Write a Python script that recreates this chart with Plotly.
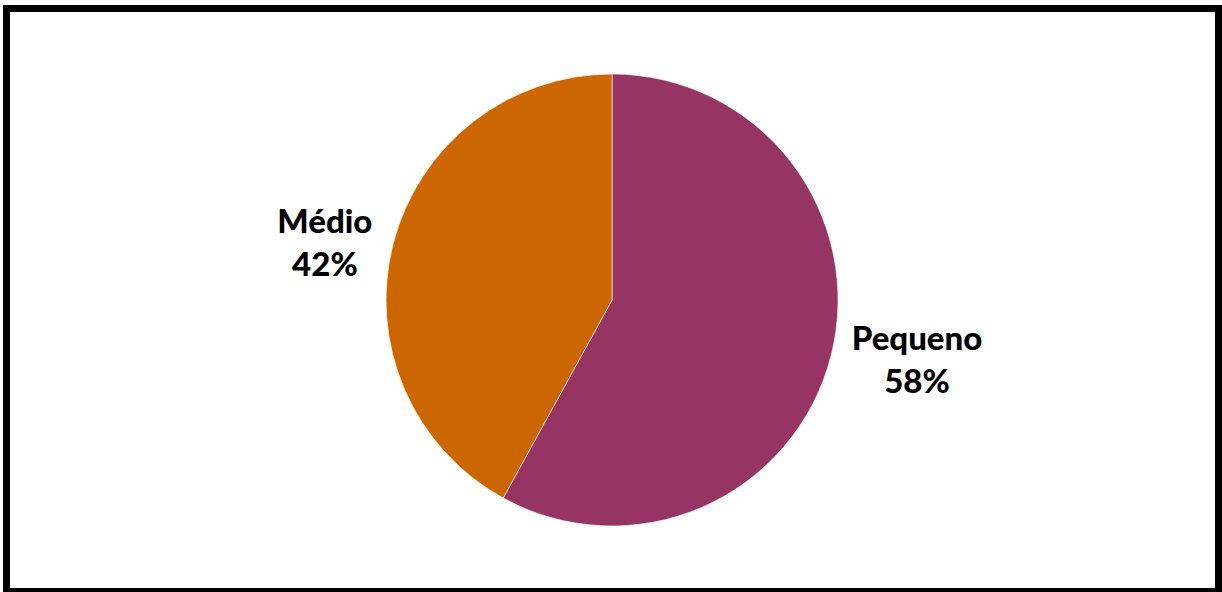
import plotly.graph_objects as go

labels = ["Pequeno", "Médio"]
values = [58, 42]
colors = ["#963464", "#CC6600"]

fig = go.Figure(go.Pie(
    labels=labels,
    values=values,
    sort=False,
    direction="clockwise",
    rotation=0,
    marker=dict(colors=colors, line=dict(color="rgba(255,255,255,0.6)", width=1)),
    textposition="outside",
    texttemplate="%{label}<br>%{percent:.0%}",
    textfont=dict(family="Lato, Open Sans, sans-serif", size=33, color="#000000", weight=900),
    showlegend=False,
    hole=0,
    domain=dict(x=[0.3159, 0.6858], y=[0.1115, 0.875]),
))

fig.update_layout(
    width=1222, height=592,
    margin=dict(l=0, r=0, t=0, b=0),
    paper_bgcolor="white",
    plot_bgcolor="white",
    shapes=[dict(type="rect", xref="paper", yref="paper",
                 x0=6.5/1222, x1=1218.5/1222, y0=0.5/592, y1=1-8.5/592,
                 line=dict(color="black", width=7), fillcolor="rgba(0,0,0,0)")],
)

fig.write_html("out.html", config={"displayModeBar": False},
               post_script="document.body.style.margin='0px';document.body.style.overflow='hidden';")
